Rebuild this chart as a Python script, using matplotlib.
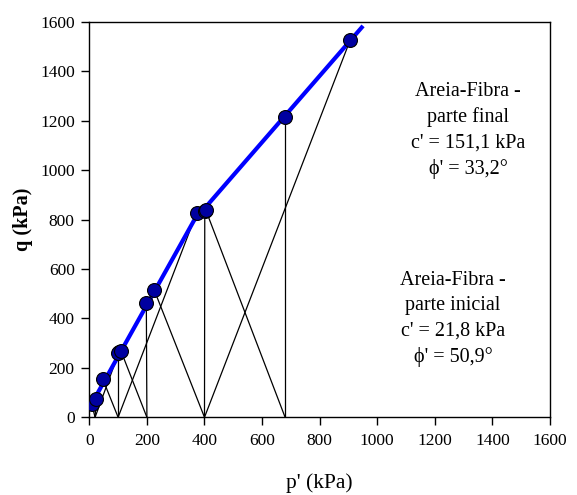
import matplotlib
matplotlib.use("Agg")
import matplotlib.pyplot as plt

# stress paths: initial p' (q = 0) and failure point (p', q)
p0 = [20, 20, 20, 100, 100, 100, 200, 200, 400, 400, 400, 680, 680]
pf = [8, 24, 103, 47, 100, 373, 110, 198, 225, 401, 906, 404, 680]
qf = [55, 74, 263, 154, 262, 827, 268, 461, 516, 836, 1526, 840, 1216]

# failure envelope (lower part / upper part)
env_p = [5, 363, 946]
env_q = [48, 795, 1577]

ticks = [0, 200, 400, 600, 800, 1000, 1200, 1400, 1600]

plt.rcParams['font.family'] = ['Liberation Serif', 'DejaVu Serif']

fig = plt.figure(figsize=(5.77, 4.95), dpi=100)
ax = fig.add_axes([0.1548, 0.157, 0.7984, 0.799])

for a, b, c in zip(p0, pf, qf):
    ax.plot([a, b], [0, c], color='black', lw=0.9, zorder=2)

ax.plot(env_p, env_q, color='#0000ff', lw=3, zorder=3)
ax.plot(pf, qf, 'o', color='#0000a0', mec='black', mew=0.8, ms=10, zorder=4)

ax.text(1315, 1160, "Areia-Fibra -\nparte final\nc' = 151,1 kPa\n\u03d5' = 33,2°",
        ha='center', va='center', fontsize=14.5, linespacing=1.45)
ax.text(1263, 398, "Areia-Fibra -\nparte inicial\nc' = 21,8 kPa\n\u03d5' = 50,9°",
        ha='center', va='center', fontsize=14.5, linespacing=1.45)

ax.set_xlim(0, 1600)
ax.set_ylim(0, 1600)
ax.set_xticks(ticks)
ax.set_yticks(ticks)
ax.tick_params(direction='out', length=5.5, width=1, labelsize=12.5)
ax.tick_params(axis='x', pad=6)
ax.tick_params(axis='y', pad=5)
for s in ax.spines.values():
    s.set_linewidth(1)
ax.set_xlabel("p' (kPa)", fontsize=15.5, labelpad=17)
ax.set_ylabel("q (kPa)", fontsize=14.5, fontweight='bold', labelpad=5)

fig.savefig('out.png', dpi=100)
